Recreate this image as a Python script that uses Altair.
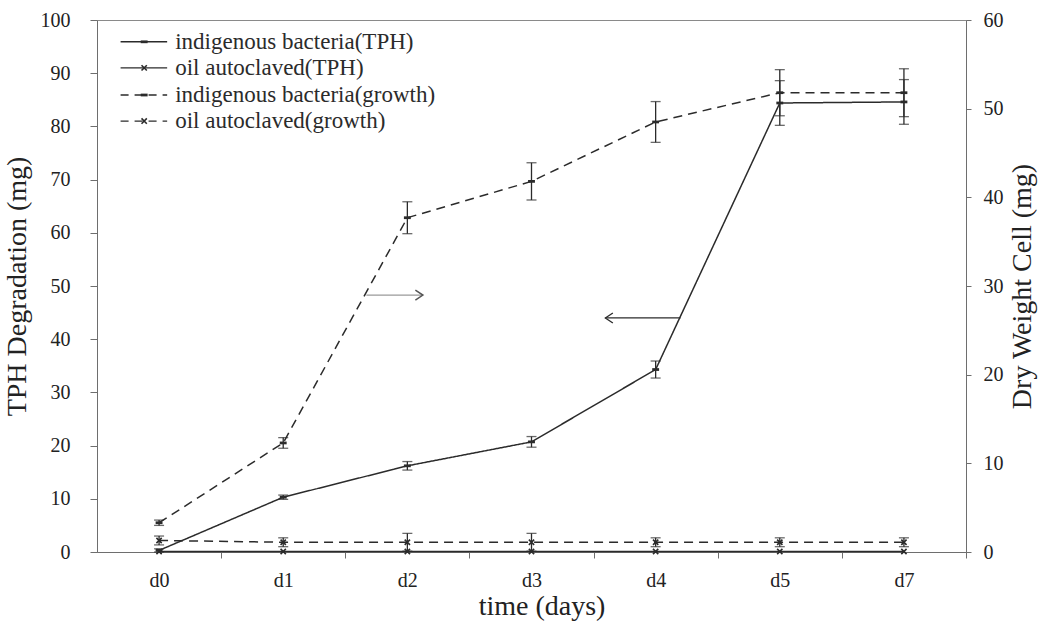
import altair as alt
import pandas as pd

# ---------------- data ----------------
days = ["d0", "d1", "d2", "d3", "d4", "d5", "d7"]

series_names = [
    "indigenous bacteria(TPH)",
    "oil autoclaved(TPH)",
    "indigenous bacteria(growth)",
    "oil autoclaved(growth)",
]

# TPH degradation (mg) - left axis
tph_bacteria = [0.3, 10.3, 16.2, 20.7, 34.3, 84.4, 84.6]
tph_bacteria_err = [0.3, 0.4, 0.8, 1.0, 1.6, 4.2, 4.2]
tph_oil = [0.1, 0.1, 0.1, 0.1, 0.1, 0.1, 0.1]
tph_oil_err = [0.0, 0.0, 0.0, 0.0, 0.0, 0.0, 0.0]

# Dry weight cell (mg) - right axis
growth_bacteria = [3.3, 12.3, 37.7, 41.8, 48.5, 51.8, 51.8]
growth_bacteria_err = [0.3, 0.6, 1.8, 2.1, 2.3, 2.6, 2.7]
growth_oil = [1.3, 1.1, 1.1, 1.1, 1.1, 1.1, 1.1]
growth_oil_err = [0.5, 0.5, 1.0, 1.0, 0.5, 0.5, 0.5]


def long_df(pairs):
    rows = []
    for name, vals, errs in pairs:
        for i, (d, v, e) in enumerate(zip(days, vals, errs)):
            rows.append({"idx": i, "day": d, "series": name, "value": v,
                         "lo": max(v - e, 0), "hi": v + e, "err": e})
    return pd.DataFrame(rows)


tph_df = long_df([(series_names[0], tph_bacteria, tph_bacteria_err),
                  (series_names[1], tph_oil, tph_oil_err)])
growth_df = long_df([(series_names[2], growth_bacteria, growth_bacteria_err),
                     (series_names[3], growth_oil, growth_oil_err)])

# ---------------- styling constants ----------------
FONT = "Liberation Serif"
INK = "#2b2b2b"
AX = "#6e6e6e"
W, H = 869, 532
STEP = W / len(days)
DASH = [9, 6]
TITLE_SIZE = 28

DASH_MARK = "M-1,-0.22L1,-0.22L1,0.22L-1,0.22Z"
X_MARK = "M-1,-1L1,1M-1,1L1,-1"
shape_scale = alt.Scale(domain=series_names,
                        range=[DASH_MARK, X_MARK, DASH_MARK, X_MARK])

label_expr = "[" + ",".join("'%s'" % d for d in days) + "][datum.value]"

x_enc = alt.X(
    "idx:Q",
    scale=alt.Scale(domain=[-0.5, len(days) - 0.5], nice=False, zero=False),
    axis=alt.Axis(
        values=list(range(len(days))), labelExpr=label_expr,
        tickOffset=STEP / 2, labelOffset=-STEP / 2,
        tickSize=6, labelPadding=12, labelFontSize=20,
        title="time (days)", titleFontSize=TITLE_SIZE, titlePadding=2,
        titleX=W / 2 + 10,
        domainColor=AX, tickColor=AX,
    ),
)


def y_tph(field):
    return alt.Y(field, type="quantitative",
                 scale=alt.Scale(domain=[0, 100], nice=False),
                 axis=alt.Axis(values=list(range(0, 101, 10)), orient="left",
                               tickSize=7, labelPadding=20, labelFontSize=20,
                               title="TPH Degradation (mg)",
                               titleFontSize=TITLE_SIZE,
                               titlePadding=9, domainColor=AX, tickColor=AX))


def y_growth(field):
    return alt.Y(field, type="quantitative",
                 scale=alt.Scale(domain=[0, 60], nice=False),
                 axis=alt.Axis(values=list(range(0, 61, 10)), orient="right",
                               tickSize=5, labelPadding=12, labelFontSize=20,
                               title="Dry Weight Cell (mg)",
                               titleFontSize=TITLE_SIZE,
                               titleAngle=270, titleBaseline="top",
                               titlePadding=5, domainColor=AX, tickColor=AX))


def series_layers(df, yfun, dash):
    base = alt.Chart(df)
    line = base.mark_line(color=INK, strokeWidth=1.5, strokeDash=dash).encode(
        x=x_enc, y=yfun("value"), detail="series:N")
    bars = base.transform_filter("datum.err > 0").mark_rule(
        color=INK, strokeWidth=1.3).encode(x=x_enc, y=yfun("lo"), y2="hi")
    cap_lo = base.transform_filter("datum.err > 0").mark_tick(
        color=INK, orient="horizontal", size=10, thickness=1.3).encode(
        x=x_enc, y=yfun("lo"))
    cap_hi = base.transform_filter("datum.err > 0").mark_tick(
        color=INK, orient="horizontal", size=10, thickness=1.3).encode(
        x=x_enc, y=yfun("hi"))
    pts = base.mark_point(filled=False, color=INK, strokeWidth=1.6, size=28,
                          opacity=1).encode(
        x=x_enc, y=yfun("value"),
        shape=alt.Shape("series:N", scale=shape_scale, legend=None))
    return [line, bars, cap_lo, cap_hi, pts]


# ---------------- legend (inside the plot, in data units) ----------------
leg_y = [95.9, 91.0, 85.9, 81.0]
leg_df = pd.DataFrame({
    "series": series_names,
    "y": leg_y,
    "x0": [-0.31] * 4,
    "x1": [0.065] * 4,
    "xm": [-0.12] * 4,
    "xt": [0.13] * 4,
    "dashed": [False, False, True, True],
})
leg_base = alt.Chart(leg_df)
leg_solid = leg_base.transform_filter("!datum.dashed").mark_rule(
    color=INK, strokeWidth=1.4).encode(x=alt.X("x0:Q"), x2="x1", y=alt.Y("y:Q"))
leg_dash = leg_base.transform_filter("datum.dashed").mark_rule(
    color=INK, strokeWidth=1.4, strokeDash=[8, 6]).encode(
    x=alt.X("x0:Q"), x2="x1", y=alt.Y("y:Q"))
leg_pts = leg_base.mark_point(filled=False, color=INK, strokeWidth=1.6,
                              size=28, opacity=1).encode(
    x=alt.X("xm:Q"), y=alt.Y("y:Q"),
    shape=alt.Shape("series:N", scale=shape_scale, legend=None))
leg_txt = leg_base.mark_text(align="left", baseline="middle", font=FONT,
                             fontSize=23, color=INK).encode(
    x=alt.X("xt:Q"), y=alt.Y("y:Q"), text="series:N")

# ---------------- arrows ----------------
arrow_df = pd.DataFrame({
    "name": ["to right axis", "to left axis"],
    "xs": [1.67, 4.2],
    "xe": [2.125, 3.595],
    "y": [48.3, 44.0],
})
arr_base = alt.Chart(arrow_df)
arr_right_line = arr_base.transform_filter("datum.xe > datum.xs").mark_rule(
    color="#9a9a9a", strokeWidth=1.2).encode(x=alt.X("xs:Q"), x2="xe", y=alt.Y("y:Q"))
arr_left_line = arr_base.transform_filter("datum.xe < datum.xs").mark_rule(
    color=INK, strokeWidth=1.2).encode(x=alt.X("xs:Q"), x2="xe", y=alt.Y("y:Q"))
arr_right_head = arr_base.transform_filter("datum.xe > datum.xs").mark_point(
    shape="M-1.5,-1L0,0L-1.5,1", filled=False, color="#555", strokeWidth=1.5,
    size=100, opacity=1).encode(x=alt.X("xe:Q"), y=alt.Y("y:Q"))
arr_left_head = arr_base.transform_filter("datum.xe < datum.xs").mark_point(
    shape="M1.5,-1L0,0L1.5,1", filled=False, color=INK, strokeWidth=1.3,
    size=100, opacity=1).encode(x=alt.X("xe:Q"), y=alt.Y("y:Q"))

tph_group = alt.layer(
    *series_layers(tph_df, y_tph, [1, 0]),
    leg_solid, leg_dash, leg_pts, leg_txt,
    arr_right_line, arr_left_line, arr_right_head, arr_left_head,
)
growth_group = alt.layer(*series_layers(growth_df, y_growth, DASH))

chart = alt.layer(tph_group, growth_group).resolve_scale(
    y="independent"
).properties(
    width=W, height=H,
    autosize=alt.AutoSizeParams(type="none"),
    padding={"left": 97, "top": 20, "right": 1052 - 97 - W, "bottom": 628 - 20 - H},
    background="white",
).configure_view(
    stroke="#8a8a8a", strokeWidth=1,
).configure_axis(
    grid=False, labelFont=FONT, titleFont=FONT, labelColor="#222",
    titleColor="#222", titleFontWeight="normal", domainWidth=1, tickWidth=1,
).configure_text(font=FONT)

chart.save("out.html", embed_options={"renderer": "svg", "actions": False})
